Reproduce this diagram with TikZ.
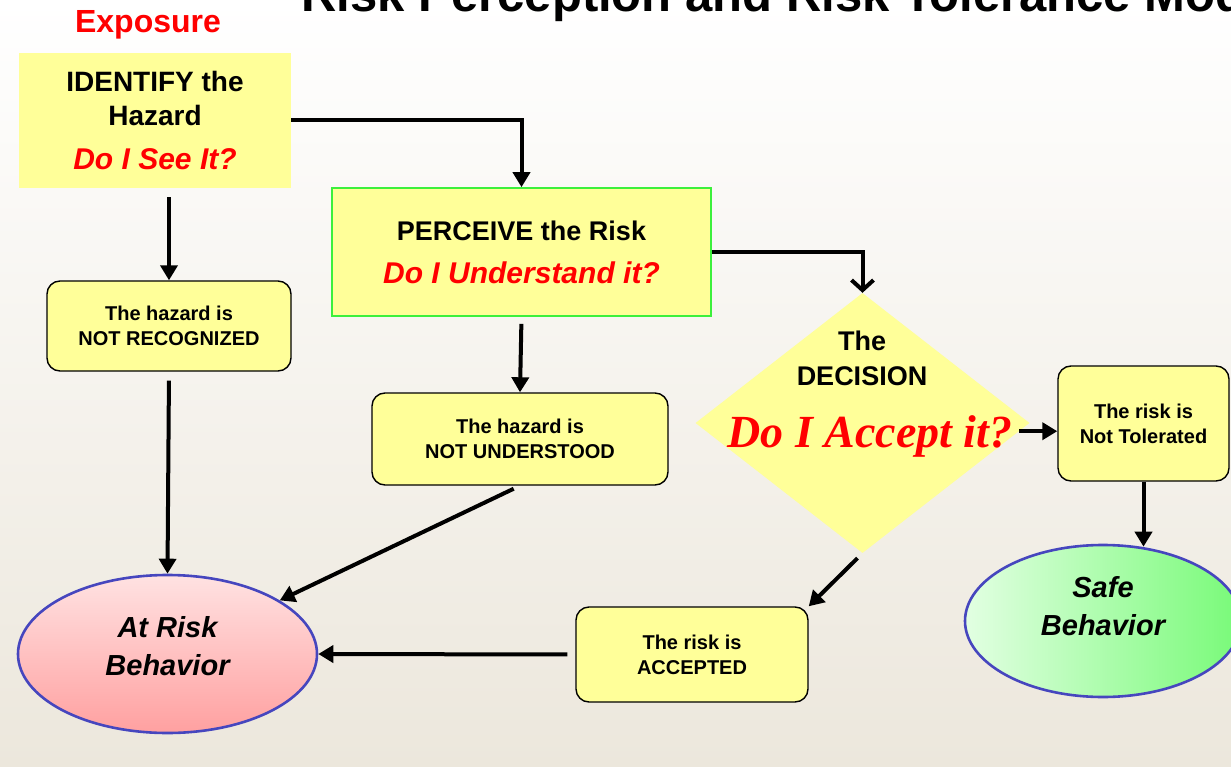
\documentclass[tikz,border=0pt]{standalone}
\usepackage{fontspec}
\setmainfont{Liberation Sans}
\newfontfamily\romanfont{Liberation Serif}
\usetikzlibrary{shapes.geometric,arrows.meta}

\definecolor{boxyellow}{RGB}{255,255,153}
\definecolor{alertred}{RGB}{255,0,0}
\definecolor{rimblue}{RGB}{70,70,190}
\definecolor{boxgreen}{RGB}{60,240,60}
\definecolor{bgbeige}{RGB}{236,231,220}
\definecolor{pinktop}{RGB}{255,226,226}
\definecolor{pinkbot}{RGB}{255,160,160}
\definecolor{mintleft}{RGB}{226,255,226}
\definecolor{mintright}{RGB}{120,250,120}

\tikzset{
  stagebox/.style={fill=boxyellow, inner sep=0pt, align=center, font=\bfseries\fontsize{28}{34}\selectfont},
  resultbox/.style={draw, fill=boxyellow, rounded corners=13pt, line width=1.4pt, inner sep=0pt, align=center, font=\bfseries\fontsize{20}{25}\selectfont},
  behave/.style={ellipse, draw=rimblue, line width=2.6pt, inner sep=0pt},
  behavetext/.style={align=center, font=\bfseries\itshape\fontsize{29}{38}\selectfont},
  flow/.style={line width=4pt, -{Triangle[length=15pt,width=17pt]}},
}
\newcommand{\askline}[1]{{\color{alertred}\itshape\fontsize{30}{34}\selectfont #1}}

\begin{document}
\begin{tikzpicture}[x=1pt, y=-1pt]
      \useasboundingbox (0,0) rectangle (1231,767);
      \clip (0,0) rectangle (1231,767);
      \fill [top color=white, bottom color=bgbeige] (0,0) rectangle (1231,767);

      % headings
      \node [anchor=base west, font=\bfseries\fontsize{49}{52}\selectfont] (title) at (298,12) {Risk Perception and Risk Tolerance Model};
      \node [anchor=base, text=alertred, font=\bfseries\fontsize{32}{36}\selectfont] (expo) at (148,33) {Exposure};

      % the three stages
      \node [stagebox, minimum width=272pt, minimum height=135pt] (identify) at (155,120.5)
            {IDENTIFY the\\Hazard\\[10pt]\askline{Do I See It?}};
      \node [stagebox, draw=boxgreen, line width=1.6pt, minimum width=379pt, minimum height=128pt,
             font=\bfseries\fontsize{27}{34}\selectfont] (perceive) at (521.5,252)
            {PERCEIVE the Risk\\[9pt]\askline{Do I Understand it?}};
      \node [diamond, fill=boxyellow, inner sep=0pt, minimum width=334pt, minimum height=260pt] (dec) at (862.5,423) {};
      \node [align=center, font=\bfseries\fontsize{27}{35}\selectfont] (dectext) at (862,358) {The\\DECISION};
      \node [anchor=base, text=alertred, font=\romanfont\bfseries\itshape\fontsize{46}{50}\selectfont] (acceptq) at (870,447) {Do I Accept it?};

      % outcomes
      \node [resultbox, minimum width=244pt, minimum height=90pt] (notrec) at (169,326) {The hazard is\\NOT RECOGNIZED};
      \node [resultbox, minimum width=296pt, minimum height=92pt] (notund) at (520,439) {The hazard is\\NOT UNDERSTOOD};
      \node [resultbox, minimum width=232pt, minimum height=95pt] (accepted) at (692,654.5) {The risk is\\ACCEPTED};
      \node [resultbox, minimum width=171pt, minimum height=115pt] (nottol) at (1143.5,423.5) {The risk is\\Not Tolerated};

      \node [behave, top color=pinktop, bottom color=pinkbot, minimum width=299pt, minimum height=158pt] (atrisk) at (167.5,654) {};
      \node [behavetext] (atrisktext) at ([yshift=8pt]atrisk.center) {At Risk\\Behavior};
      \node [behave, left color=mintleft, right color=mintright, minimum width=276pt, minimum height=152pt] (safe) at (1103,621) {};
      \node [behavetext] (safetext) at ([yshift=15pt]safe.center) {Safe\\Behavior};

      % connectors
      \draw [flow] (identify.east) -| (perceive.north);
      \draw [flow, shorten <=9pt] (notrec.north |- identify.south) -- (notrec.north);
      \draw [flow, shorten <=9pt] (notrec.south) -- (atrisk.north);
      \draw [flow, shorten <=7pt] (perceive.south) -- (notund.north);
      \draw [flow, shorten <=7pt] (notund.south) -- (atrisk);
      \draw [line width=4pt, -{Straight Barb[length=10pt,width=22pt]}] (perceive.east) -| (dec.north);
      \draw [flow] (dec.-3) -- (dec.-3 -| nottol.west);
      \draw [flow, shorten >=-3pt] (nottol.south) -- (nottol.south |- safe.north);
      \draw [flow, shorten <=7pt] (dec.south) -- (accepted.north east);
      \draw [flow, shorten <=8pt] (accepted.west) -- (atrisk.east);
\end{tikzpicture}
\end{document}
